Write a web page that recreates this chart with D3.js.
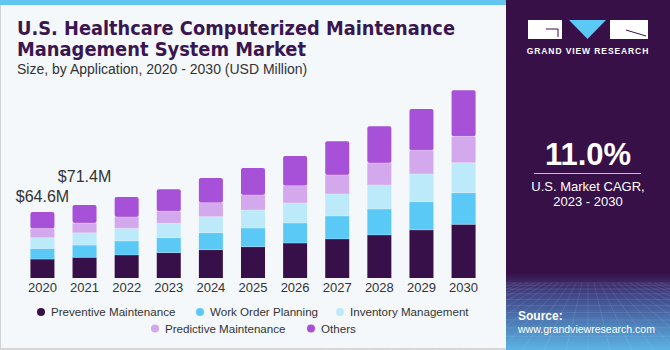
<!DOCTYPE html>
<meta charset="utf-8">
<head>
  <title>U.S. Healthcare CMMS Market</title>
  <script src="https://d3js.org/d3.v7.min.js"></script>
  <style>
    body { margin: 0; background: #fff; }
    svg { display: block; font-family: "Liberation Sans", Arial, sans-serif; }
  </style>
</head>
<body>
<div id="display"></div>
<script>
  // data (USD million)
  var years = ["2020", "2021", "2022", "2023", "2024", "2025", "2026", "2027", "2028", "2029", "2030"];
  var segments = ["Preventive Maintenance", "Work Order Planning", "Inventory Management", "Predictive Maintenance", "Others"];
  var preventive = [18.5, 20.2, 22.5, 24.8, 27.7, 30.6, 34.2, 38.2, 42.1, 47.0, 52.5];
  var workOrder  = [10.4, 12.0, 13.7, 14.7, 16.6, 18.3, 19.6, 22.5, 25.4, 27.7, 30.9];
  var inventory  = [10.5, 12.0, 12.4, 14.1, 15.7, 17.6, 19.6, 21.5, 23.5, 27.1, 29.4];
  var predictive = [9.1, 9.5, 11.1, 11.7, 13.7, 14.7, 16.9, 18.6, 21.5, 23.2, 25.8];
  var others     = [16.1, 17.7, 19.6, 21.5, 24.2, 26.4, 29.1, 33.0, 35.9, 40.4, 45.0];
  var annotations = [{year: "2020", text: "$64.6M"}, {year: "2021", text: "$71.4M"}];
  var colors = ["#37104a", "#5bc9f6", "#bdeafa", "#d4a8ec", "#a651d8"];

  var W = 670, H = 350;
  var svg = d3.select("#display").append("svg")
      .attr("width", W)
      .attr("height", H);

  // backgrounds
  svg.append("rect").attr("width", 506).attr("height", H).attr("fill", "#f4f8fb");
  svg.append("rect").attr("width", 506).attr("height", 5).attr("fill", "#62c6f0");
  svg.append("rect").attr("x", 0).attr("y", 5).attr("width", 1).attr("height", H - 5).attr("fill", "#cfd3d6");
  svg.append("rect").attr("x", 0).attr("y", H - 2).attr("width", 506).attr("height", 2).attr("fill", "#d4d6d8");

  // title
  var title = svg.append("g").attr("fill", "#3a1650")
      .style("font-family", "'DejaVu Sans', sans-serif")
      .style("font-weight", "bold")
      .style("font-size", "19px");
  title.append("text").attr("x", 17).attr("y", 35).text("U.S. Healthcare Computerized Maintenance")
      .attr("textLength", 438).attr("lengthAdjust", "spacingAndGlyphs");
  title.append("text").attr("x", 17).attr("y", 56).text("Management System Market")
      .attr("textLength", 289).attr("lengthAdjust", "spacingAndGlyphs");
  svg.append("text").attr("x", 17).attr("y", 74)
      .attr("fill", "#333")
      .style("font-size", "14px")
      .text("Size, by Application, 2020 - 2030 (USD Million)");

  // stacked data
  var table = years.map(function(y, i) {
    return {year: y, "Preventive Maintenance": preventive[i], "Work Order Planning": workOrder[i],
      "Inventory Management": inventory[i], "Predictive Maintenance": predictive[i], "Others": others[i]};
  });
  var stack = d3.stack().keys(segments)(table);

  var x = d3.scaleBand().domain(years).range([22, 484]).paddingInner(0.43).paddingOuter(0.2);
  var y = d3.scaleLinear().domain([0, 200]).range([278, 73.6]);

  var barsG = svg.append("g");
  stack.forEach(function(layer, li) {
    barsG.append("g").attr("fill", colors[li])
      .selectAll("rect")
      .data(layer)
      .enter()
      .append("rect")
        .attr("x", function(d) { return x(d.data.year); })
        .attr("y", function(d) { return y(d[1]); })
        .attr("width", x.bandwidth())
        .attr("height", function(d) { return y(d[0]) - y(d[1]); })
        .attr("rx", li == segments.length - 1 ? 2 : 0);
  });
  // thin separators between segments
  stack.slice(1).forEach(function(layer) {
    barsG.append("g").selectAll("line").data(layer).enter().append("line")
      .attr("x1", function(d) { return x(d.data.year); })
      .attr("x2", function(d) { return x(d.data.year) + x.bandwidth(); })
      .attr("y1", function(d) { return y(d[0]); })
      .attr("y2", function(d) { return y(d[0]); })
      .attr("stroke", "#ffffff").attr("stroke-opacity", 0.35).attr("stroke-width", 0.8);
  });

  // x axis labels
  svg.append("g").selectAll("text").data(years).enter().append("text")
      .attr("x", function(d) { return x(d) + x.bandwidth() / 2; })
      .attr("y", 292)
      .attr("text-anchor", "middle")
      .attr("fill", "#333")
      .style("font-size", "13px")
      .text(function(d) { return d; });

  // value annotations
  svg.append("g").selectAll("text").data(annotations).enter().append("text")
      .attr("x", function(d) { return x(d.year) + x.bandwidth() / 2; })
      .attr("y", function(d, i) {
        var t = table[years.indexOf(d.year)];
        var total = d3.sum(segments, function(k) { return t[k]; });
        return y(total) - 10 - i * 13;
      })
      .attr("text-anchor", "middle")
      .attr("fill", "#333")
      .style("font-size", "16px")
      .text(function(d) { return d.text; });

  // legend
  var legendRows = [
    [{k: 0, x: 41}, {k: 1, x: 200}, {k: 2, x: 340}],
    [{k: 3, x: 155}, {k: 4, x: 311}]
  ];
  legendRows.forEach(function(row, ri) {
    var g = svg.append("g").attr("transform", "translate(0," + (312 + ri * 16.5) + ")");
    row.forEach(function(item) {
      g.append("circle").attr("cx", item.x).attr("cy", 0).attr("r", 4).attr("fill", colors[item.k]);
      g.append("text").attr("x", item.x + 10).attr("y", 4.2)
        .attr("fill", "#333").style("font-size", "11.6px")
        .text(segments[item.k]);
    });
  });

  // right panel
  var defs = svg.append("defs");
  var grad = defs.append("linearGradient").attr("id", "panelGrad")
      .attr("x1", 0).attr("y1", 0).attr("x2", 0).attr("y2", 1);
  grad.append("stop").attr("offset", "0%").attr("stop-color", "#371048");
  grad.append("stop").attr("offset", "78%").attr("stop-color", "#371048");
  grad.append("stop").attr("offset", "83%").attr("stop-color", "#3f3d7f");
  grad.append("stop").attr("offset", "92%").attr("stop-color", "#4d7bb6");
  grad.append("stop").attr("offset", "100%").attr("stop-color", "#5bb4e4");

  var panel = svg.append("g").attr("transform", "translate(506,0)");
  panel.append("rect").attr("width", 164).attr("height", H).attr("fill", "url(#panelGrad)");

  // faint perspective grid in the bottom of the panel
  var grid = panel.append("g").attr("stroke", "#ffffff").attr("stroke-opacity", 0.16).attr("stroke-width", 0.6).attr("fill", "none");
  d3.range(0, 10).forEach(function(i) {
    var yy = 283 + Math.pow(i, 1.45) * 2.2;
    grid.append("line").attr("x1", 0).attr("x2", 164).attr("y1", yy).attr("y2", yy);
  });
  d3.range(-12, 13).forEach(function(i) {
    grid.append("line").attr("x1", 82 + i * 6).attr("y1", 283).attr("x2", 82 + i * 22).attr("y2", H);
  });

  // logo
  var logo = panel.append("g");
  logo.append("rect").attr("x", 22).attr("y", 20).attr("width", 34).attr("height", 19).style("fill", "#ffffff");
  logo.append("path").attr("d", "M40,29 H52 V37").style("stroke", "#371048").style("stroke-width", 1).style("fill", "none");
  logo.append("path").attr("d", "M63,20 L100,20 L81.5,39 Z").style("fill", "#5bc9f6");
  logo.append("rect").attr("x", 104).attr("y", 20).attr("width", 38).attr("height", 19).style("fill", "#ffffff");
  logo.append("path").attr("d", "M120,30 L140,36").style("stroke", "#371048").style("stroke-width", 1);
  panel.append("text").attr("x", 82).attr("y", 54).attr("text-anchor", "middle")
      .attr("fill", "#fff").style("font-size", "8.5px").style("font-weight", "bold")
      .attr("letter-spacing", "0.9px")
      .text("GRAND VIEW RESEARCH");

  panel.append("text").attr("x", 82).attr("y", 165).attr("text-anchor", "middle")
      .attr("fill", "#fff").style("font-size", "31px").style("font-weight", "bold")
      .text("11.0%");
  panel.append("line").attr("x1", 28).attr("x2", 135).attr("y1", 173.5).attr("y2", 173.5)
      .attr("stroke", "#c9bcd3").attr("stroke-width", 1);
  panel.append("text").attr("x", 82).attr("y", 191).attr("text-anchor", "middle")
      .attr("fill", "#fff").style("font-size", "13px").text("U.S. Market CAGR,");
  panel.append("text").attr("x", 82).attr("y", 206).attr("text-anchor", "middle")
      .attr("fill", "#fff").style("font-size", "13px").text("2023 - 2030");

  panel.append("text").attr("x", 12).attr("y", 320)
      .attr("fill", "#fff").style("font-size", "12px").style("font-weight", "bold").text("Source:");
  panel.append("text").attr("x", 12).attr("y", 333)
      .attr("fill", "#fff").style("font-size", "11.5px")
      .attr("textLength", 137).attr("lengthAdjust", "spacingAndGlyphs")
      .text("www.grandviewresearch.com");
</script>
</body>
